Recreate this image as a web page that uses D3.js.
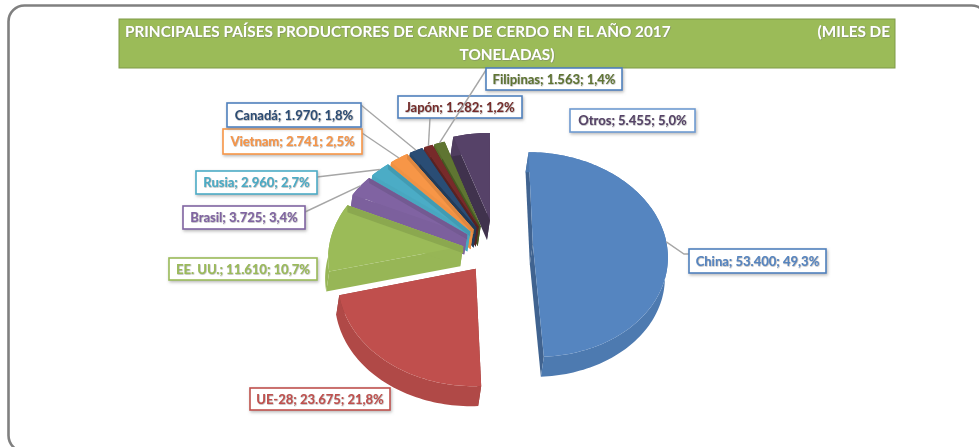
<!DOCTYPE html>
<html>
<head>
<meta charset="utf-8">
<script src="https://cdn.jsdelivr.net/npm/d3@7"></script>
<style>
  html, body { margin: 0; padding: 0; background: #fff; }
  svg { display: block; }
  text { font-family: Lato, "Open Sans", sans-serif; font-weight: 700; }
</style>
</head>
<body>
<svg id="chart" width="979" height="447"></svg>
<script>
const countries = ["China", "UE-28", "EE. UU.", "Brasil", "Rusia", "Vietnam", "Canadá", "Japón", "Filipinas", "Otros"];
const tonnes = [53400, 23675, 11610, 3725, 2960, 2741, 1970, 1282, 1563, 5455];
const shares = ["49,3%", "21,8%", "10,7%", "3,4%", "2,7%", "2,5%", "1,8%", "1,2%", "1,4%", "5,0%"];
const explode = [0.32, 0.25, 0.2, 0.2, 0.2, 0.2, 0.2, 0.2, 0.2, 0.25];
const explodeLean = [0, -0.21, -0.15, 0, 0, 0, 0, 0, 0, 0.157];
const colors = ["#5585c0", "#c0504d", "#9bbb59", "#8064a2", "#4bacc6", "#f79646", "#2c4d75", "#772c2a", "#5f7530", "#564268"];
const borders = ["#4f81bd", "#c0504d", "#9bbb59", "#8064a2", "#4bacc6", "#f79646", "#4f81bd", "#4f81bd", "#4f81bd", "#6f9bd1"];
const titleLines = ["PRINCIPALES PAÍSES PRODUCTORES DE CARNE DE CERDO EN EL AÑO 2017", "(MILES DE", "TONELADAS)"];

// label boxes, left/top/right/bottom of each box and where its leader line starts
const labelBoxes = [
  [689, 249, 826, 273, 684, 254],
  [250, 388, 390, 410],
  [169, 258, 317, 280],
  [183, 206, 305, 229, 305, 212],
  [196, 171, 317, 194, 317, 177],
  [223, 129, 362, 154, 362, 133],
  [227, 103, 361, 127, 361, 105],
  [398, 96, 522, 118, 430, 118],
  [486, 68, 622, 90, 486, 70],
  [570, 109, 695, 132]
];

const CX = 490, CY = 245, RX = 134, RY = 102.5, PERSP = 0.1, DEPTH = 20, SHEAR = 3;

const svg = d3.select("#chart");
const defs = svg.append("defs");
defs.append("filter").attr("id", "soft").attr("x", "-5%").attr("y", "-5%").attr("width", "110%").attr("height", "110%")
  .append("feGaussianBlur").attr("stdDeviation", 0.6);
defs.append("filter").attr("id", "boxShadow").attr("x", "-10%").attr("y", "-20%").attr("width", "120%").attr("height", "150%")
  .append("feDropShadow").attr("dx", 1).attr("dy", 1.5).attr("stdDeviation", 1.5).attr("flood-color", "#888").attr("flood-opacity", 0.6);
defs.append("filter").attr("id", "textHalo").attr("x", "-5%").attr("y", "-20%").attr("width", "110%").attr("height", "140%")
  .append("feDropShadow").attr("dx", 0.5).attr("dy", 0.5).attr("stdDeviation", 0.6).attr("flood-color", "#666").attr("flood-opacity", 0.7);

const root = svg.append("g").attr("filter", "url(#soft)");

// chart frame
root.append("rect").attr("x", 8.5).attr("y", 5.5).attr("width", 979).attr("height", 446).attr("rx", 16)
  .attr("fill", "#fff").attr("stroke", "#808080").attr("stroke-width", 2.6);

// title band
root.append("rect").attr("x", 119).attr("y", 19).attr("width", 776).attr("height", 49)
  .attr("fill", "#9bbb59").attr("stroke", "#7f9a48");
const titles = root.append("g").attr("filter", "url(#textHalo)").attr("font-size", 15.3).attr("fill", "#fff");
titles.append("text").attr("x", 125).attr("y", 37).text(titleLines[0]);
titles.append("text").attr("x", 890).attr("y", 37).attr("text-anchor", "end").text(titleLines[1]);
titles.append("text").attr("x", 507).attr("y", 60).attr("text-anchor", "middle").text(titleLines[2]);

const pie = d3.pie().sort(null).value(d => d)(tonnes);

// pie plane to screen, y of the plane grows toward the viewer
function project(X, Y) {
  const s = 1 + PERSP * Y;
  return [CX + X * RX * s, CY + Y * RY * s];
}
function point(d, i, angle, r) {
  const dir = (d.startAngle + d.endAngle) / 2 + explodeLean[i];
  const e = explode[i];
  return project(Math.sin(dir) * e + Math.sin(angle) * r, -Math.cos(dir) * e - Math.cos(angle) * r);
}
const down = p => [p[0] - SHEAR, p[1] + DEPTH];
const line = d3.line();

const slices = pie.map((d, i) => ({d, i})).sort((a, b) => {
  const ma = (a.d.startAngle + a.d.endAngle) / 2, mb = (b.d.startAngle + b.d.endAngle) / 2;
  return Math.cos(mb) - Math.cos(ma);
});

const gPie = root.append("g");
slices.forEach(({d, i}) => {
  const n = Math.max(6, Math.round((d.endAngle - d.startAngle) * 40));
  const arc = d3.range(n + 1).map(k => point(d, i, d.startAngle + (d.endAngle - d.startAngle) * k / n, 1));
  const tip = point(d, i, 0, 0);
  const c = d3.color(colors[i]);
  const g = gPie.append("g");
  const mid = (d.startAngle + d.endAngle) / 2;
  const leftSide = Math.sin(mid) < -0.6;

  // radial walls, the ones on the left of the pie catch nearly as much light as the face
  [arc[0], arc[n]].forEach(p => {
    g.append("path").attr("d", line([tip, p, down(p), down(tip)]) + "Z").attr("fill", c.darker(leftSide ? 0.08 : 0.8));
  });
  // outer rim
  g.append("path").attr("d", line(arc.concat(arc.map(down).reverse())) + "Z").attr("fill", c.darker(leftSide ? 0.08 : 0.25));
  // top face
  g.append("path").attr("d", line([tip].concat(arc)) + "Z").attr("fill", c);
  if (leftSide) {
    // shaded bevel along the upper edge
    const p = arc[n], w = d.value > 5000 ? 7 : 5;
    g.append("path").attr("d", line([tip, p, [p[0], p[1] + w], [tip[0], tip[1] + w]]) + "Z")
      .attr("fill", c.darker(0.3));
  }
});

// labels
labelBoxes.forEach((b, i) => {
  const [x0, y0, x1, y1, lx, ly] = b;
  if (lx !== undefined) {
    const mid = (pie[i].startAngle + pie[i].endAngle) / 2;
    root.append("path").attr("d", line([[x0 <= lx && lx <= x1 ? lx : x0, ly], [lx, ly], point(pie[i], i, mid, 1)]))
      .attr("fill", "none").attr("stroke", "#a6a6a6").attr("stroke-width", 1.4);
  }
  root.append("rect").attr("x", x0).attr("y", y0).attr("width", x1 - x0).attr("height", y1 - y0)
    .attr("fill", "#fff").attr("stroke", borders[i]).attr("stroke-width", 1.6)
    .attr("filter", "url(#boxShadow)");
  root.append("text").attr("x", (x0 + x1) / 2).attr("y", (y0 + y1) / 2 + 4.5)
    .attr("text-anchor", "middle").attr("font-size", 13).attr("fill", colors[i])
    .attr("filter", "url(#textHalo)")
    .text(`${countries[i]}; ${d3.format(",")(tonnes[i]).replace(/,/g, ".")}; ${shares[i]}`);
});
</script>
</body>
</html>
